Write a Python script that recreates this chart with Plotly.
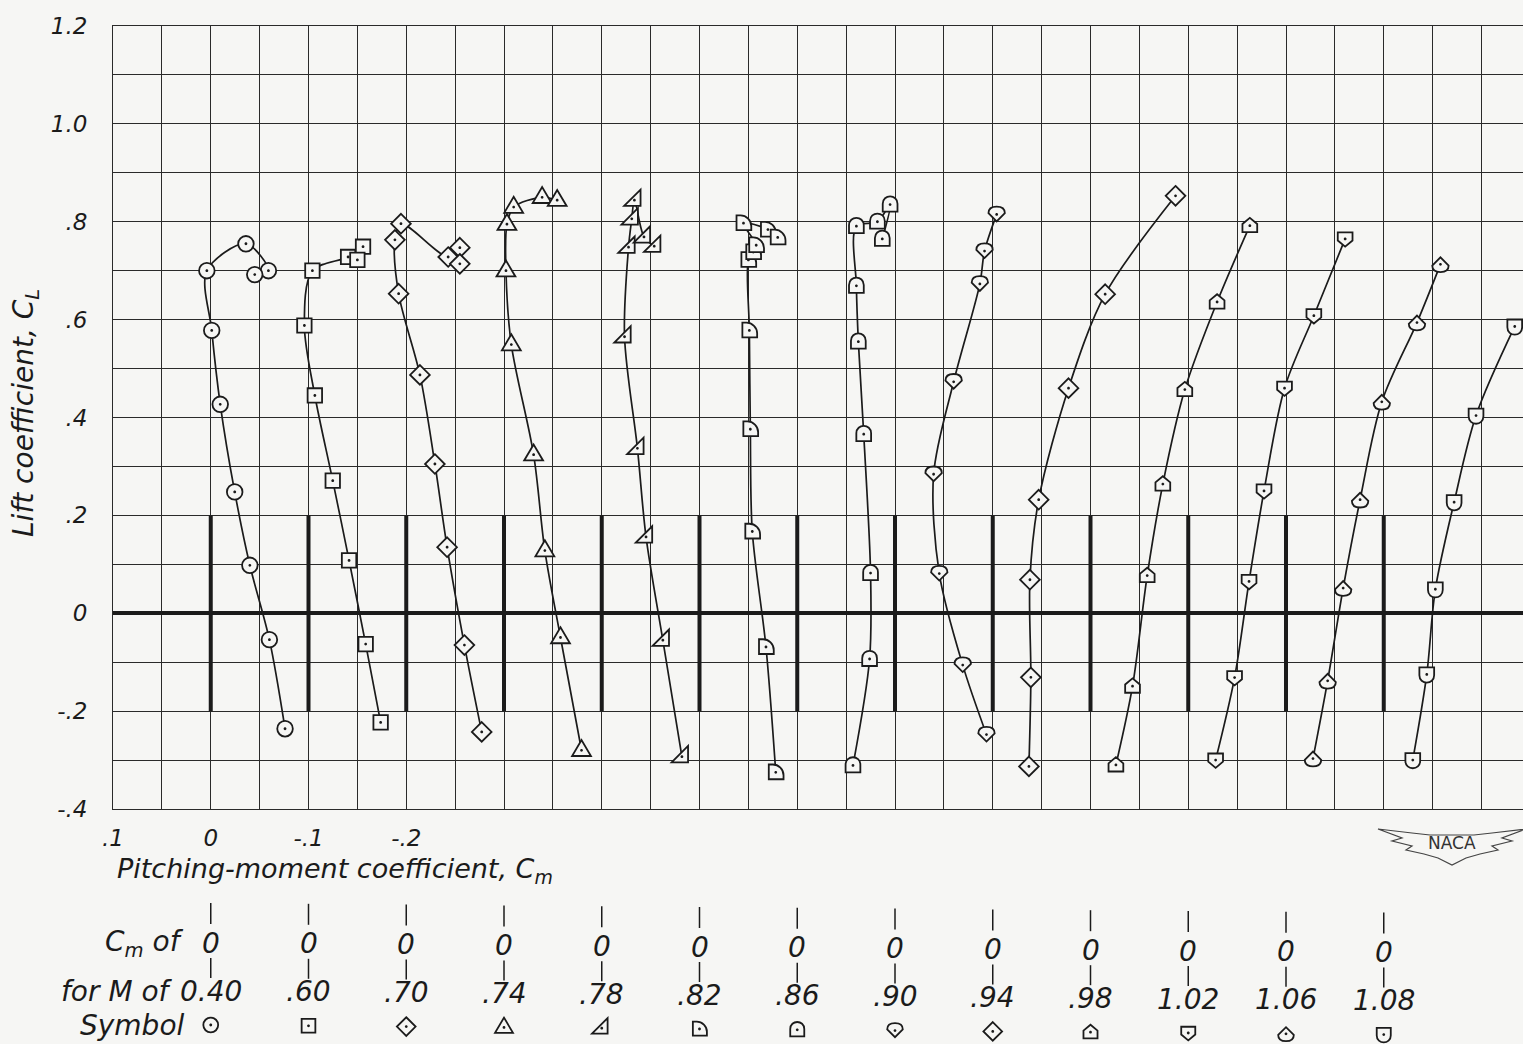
import plotly.graph_objects as go

# ---------------------------------------------------------------- data
MACH_LABELS = ["0.40", ".60", ".70", ".74", ".78", ".82", ".86",
               ".90", ".94", ".98", "1.02", "1.06", "1.08"]
SYMBOL_KEYS = ["circle", "square", "diamond", "tri_up", "tri_se", "quarter", "arch",
               "drop_down", "diamond", "house", "house_inv", "drop_up", "arch_inv"]

CM_M040 = [-0.076, -0.060, -0.040, -0.0245, -0.0097, -0.001, 0.004, -0.036, -0.059, -0.045]
CL_M040 = [-0.236, -0.054, 0.098, 0.248, 0.427, 0.578, 0.700, 0.755, 0.700, 0.692]

CM_M060 = [-0.0738, -0.0585, -0.0415, -0.0248, -0.0065, 0.0042, -0.004, -0.0405, -0.0558, -0.050]
CL_M060 = [-0.223, -0.063, 0.108, 0.271, 0.445, 0.588, 0.700, 0.728, 0.749, 0.722]

CM_M070 = [-0.0772, -0.0595, -0.0418, -0.0293, -0.014, 0.0078, 0.0116, 0.0054, -0.0429, -0.0548, -0.0548]
CL_M070 = [-0.2425, -0.065, 0.135, 0.305, 0.487, 0.653, 0.763, 0.796, 0.728, 0.747, 0.714]

CM_M074 = [-0.0793, -0.0578, -0.0418, -0.0303, -0.0075, -0.002, -0.003, -0.0099, -0.039, -0.0544]
CL_M074 = [-0.280, -0.0496, 0.128, 0.324, 0.549, 0.700, 0.795, 0.830, 0.850, 0.844]

CM_M078 = [-0.082, -0.0625, -0.0453, -0.0365, -0.0233, -0.0274, -0.0307, -0.0334, -0.0432, -0.0537]
CL_M078 = [-0.293, -0.055, 0.156, 0.337, 0.565, 0.748, 0.806, 0.844, 0.769, 0.750]

CM_M082 = [-0.078, -0.068, -0.054, -0.052, -0.051, -0.050, -0.055, -0.058, -0.045, -0.070, -0.080]
CL_M082 = [-0.325, -0.069, 0.167, 0.376, 0.578, 0.722, 0.738, 0.752, 0.797, 0.784, 0.768]

CM_M086 = [-0.057, -0.074, -0.075, -0.068, -0.0625, -0.0605, -0.0605, -0.082, -0.095, -0.087]
CL_M086 = [-0.311, -0.0935, 0.082, 0.366, 0.555, 0.669, 0.791, 0.800, 0.835, 0.765]

CM_M090 = [-0.0936, -0.0693, -0.0453, -0.0395, -0.060, -0.0868, -0.0916, -0.104]
CL_M090 = [-0.248, -0.106, 0.081, 0.284, 0.473, 0.673, 0.740, 0.815]

CM_M094 = [-0.037, -0.039, -0.038, -0.047, -0.0775, -0.115, -0.187]
CL_M094 = [-0.313, -0.131, 0.0685, 0.232, 0.460, 0.652, 0.853]

CM_M098 = [-0.026, -0.043, -0.058, -0.074, -0.0965, -0.1295, -0.163]
CL_M098 = [-0.310, -0.149, 0.077, 0.264, 0.457, 0.636, 0.792]

CM_M102 = [-0.028, -0.0474, -0.0622, -0.0775, -0.0985, -0.1285, -0.1605]
CL_M102 = [-0.300, -0.1315, 0.065, 0.250, 0.460, 0.608, 0.765]

CM_M106 = [-0.0276, -0.0426, -0.0585, -0.0758, -0.098, -0.134, -0.158]
CL_M106 = [-0.297, -0.138, 0.0515, 0.232, 0.432, 0.594, 0.713]

CM_M108 = [-0.0297, -0.044, -0.0528, -0.072, -0.0944, -0.134]
CL_M108 = [-0.300, -0.125, 0.049, 0.227, 0.404, 0.586]

SERIES = [(CM_M040, CL_M040), (CM_M060, CL_M060), (CM_M070, CL_M070), (CM_M074, CL_M074),
          (CM_M078, CL_M078), (CM_M082, CL_M082), (CM_M086, CL_M086), (CM_M090, CL_M090),
          (CM_M094, CL_M094), (CM_M098, CL_M098), (CM_M102, CL_M102), (CM_M106, CL_M106),
          (CM_M108, CL_M108)]

X_TICK_LABELS = {-0.1: ".1", 0.0: "0", 0.1: "-.1", 0.2: "-.2"}
Y_TICK_LABELS = {1.2: "1.2", 1.0: "1.0", 0.8: ".8", 0.6: ".6", 0.4: ".4",
                 0.2: ".2", 0.0: "0", -0.2: "-.2", -0.4: "-.4"}

# ---------------------------------------------------------------- style / layout constants
W, H = 1523, 1044
L_MARGIN = 113
PLOT_TOP, PLOT_BOTTOM = 26, 809
PX_PER_UNIT = 977.5
STEP = 0.1                      # stagger of the Cm origin between Mach numbers
X_RANGE = [-0.1, -0.1 + (W - L_MARGIN) / PX_PER_UNIT]
Y_RANGE = [-0.4, 1.2]
INK = "#1b1b1b"
GRID = "#2a2a2a"
BG = "#f6f6f4"
FONT = "DejaVu Sans"
R_PLOT = 8.2
R_LEG = 7.8

# table rows (screen px, column 0) and per-column skew
SEG1 = (903, 924)
ZERO_Y = 943
SEG2 = (958, 978)
MACH_Y = 991
SYM_Y = 1025
SKEW = 0.8
TABLE_TOP = 814.0


def circle_cmds(R):
    k = 0.5523 * R
    return [("M", [(R, 0)]),
            ("C", [(R, k), (k, R), (0, R)]),
            ("C", [(-k, R), (-R, k), (-R, 0)]),
            ("C", [(-R, -k), (-k, -R), (0, -R)]),
            ("C", [(k, -R), (R, -k), (R, 0)]),
            ("Z", [])]


def poly_cmds(pts):
    return [("M", [pts[0]])] + [("L", [p]) for p in pts[1:]] + [("Z", [])]


SYM_BASE = {
    "circle": circle_cmds(0.95),
    "square": poly_cmds([(-0.88, -0.88), (0.88, -0.88), (0.88, 0.88), (-0.88, 0.88)]),
    "diamond": poly_cmds([(0, 1.2), (1.2, 0), (0, -1.2), (-1.2, 0)]),
    "tri_up": poly_cmds([(-1.15, -0.7), (1.15, -0.7), (0, 1.25)]),
    "tri_se": poly_cmds([(-1.25, -0.7), (0.75, -0.7), (0.75, 1.3)]),
    "quarter": [("M", [(-0.85, -0.85)]), ("L", [(-0.85, 0.95)]), ("L", [(-0.35, 0.95)]),
                ("C", [(0.35, 0.95), (0.95, 0.35), (0.95, -0.35)]), ("L", [(0.95, -0.85)]), ("Z", [])],
    "arch": [("M", [(-0.9, -0.85)]), ("L", [(-0.9, 0.1)]),
             ("C", [(-0.9, 1.3), (0.9, 1.3), (0.9, 0.1)]), ("L", [(0.9, -0.85)]), ("Z", [])],
    "drop": [("M", [(-1.0, 0.15)]), ("C", [(-1.0, 0.75), (-0.55, 0.95), (0, 0.95)]),
             ("C", [(0.55, 0.95), (1.0, 0.75), (1.0, 0.15)]), ("L", [(0, -0.85)]), ("Z", [])],
    "house": poly_cmds([(-0.9, -0.8), (0.9, -0.8), (0.9, 0.2), (0, 0.95), (-0.9, 0.2)]),
}
SYM_MAP = {"circle": ("circle", False), "square": ("square", False), "diamond": ("diamond", False),
           "tri_up": ("tri_up", False), "tri_se": ("tri_se", False), "quarter": ("quarter", False),
           "arch": ("arch", False), "arch_inv": ("arch", True), "drop_down": ("drop", False),
           "drop_up": ("drop", True), "house": ("house", False), "house_inv": ("house", True)}


def sym_path(key, r):
    base, flip = SYM_MAP[key]
    out = []
    for c, pts in SYM_BASE[base]:
        if c == "Z":
            out.append("Z")
            continue
        out.append(c + " ".join(f"{x * r:.2f},{(-y if flip else y) * r:.2f}" for x, y in pts))
    return " ".join(out)


def dot_path(r):
    out = []
    for c, pts in circle_cmds(r):
        out.append("Z" if c == "Z" else c + " ".join(f"{x:.2f},{y:.2f}" for x, y in pts))
    return " ".join(out)


def marker_shapes(xref, yref, x, y, key, r):
    common = dict(type="path", xref=xref, yref=yref, xsizemode="pixel", ysizemode="pixel",
                  xanchor=x, yanchor=y, layer="above")
    return [dict(common, path=sym_path(key, r), fillcolor=BG, line=dict(color=INK, width=1.8)),
            dict(common, path=dot_path(1.4), fillcolor=INK, line=dict(width=0))]


def paper_x(px):
    return (px - L_MARGIN) / (W - L_MARGIN)


def paper_y(py):
    return (H - py) / H


fig = go.Figure()

# faired curves
for k, (cm, cl) in enumerate(SERIES):
    fig.add_trace(go.Scatter(
        x=[k * STEP - c for c in cm], y=cl, mode="lines",
        line=dict(color=INK, width=1.7, shape="spline", smoothing=0.9),
        hoverinfo="skip", showlegend=False))

# heavy Cm = 0 reference marks for every Mach number
vx, vy = [], []
for k in range(len(MACH_LABELS)):
    vx += [k * STEP, k * STEP, None]
    vy += [-0.2, 0.2, None]
fig.add_trace(go.Scatter(x=vx, y=vy, mode="lines", line=dict(color=INK, width=4),
                         hoverinfo="skip", showlegend=False))

shapes = []
for k, (cm, cl) in enumerate(SERIES):
    for c, l in zip(cm, cl):
        shapes += marker_shapes("x", "y", k * STEP - c, l, SYMBOL_KEYS[k], R_PLOT)

# ---------------------------------------------------------------- key table (x2 / y2 in screen px)
TFONT = dict(size=28, family=FONT, style="italic", color=INK)
tx, ty = [], []
annotations = []
for k, lab in enumerate(MACH_LABELS):
    sk = k * SKEW
    tx += [k * STEP, k * STEP, None, k * STEP, k * STEP, None]
    ty += [SEG1[0] + sk, SEG1[1] + sk, None, SEG2[0] + sk, SEG2[1] + sk, None]
    annotations.append(dict(x=k * STEP, y=ZERO_Y + sk, xref="x2", yref="y2", text="0",
                            xanchor="center", yanchor="middle", showarrow=False, font=TFONT))
    annotations.append(dict(x=k * STEP, y=MACH_Y + sk, xref="x2", yref="y2", text=lab,
                            xanchor="center", yanchor="middle", showarrow=False, font=TFONT))
    shapes += marker_shapes("x2", "y2", k * STEP, SYM_Y + sk, SYMBOL_KEYS[k], R_LEG)

fig.add_trace(go.Scatter(x=tx, y=ty, mode="lines", line=dict(color=INK, width=1.5),
                         xaxis="x2", yaxis="y2", hoverinfo="skip", showlegend=False))

for text, yy, xs in [("C<sub>m</sub> of", ZERO_Y, -25), ("for M of", MACH_Y, -36), ("Symbol", SYM_Y, -24)]:
    annotations.append(dict(x=0, y=yy, xref="x2", yref="y2", text=text, xanchor="right",
                            yanchor="middle", xshift=xs, showarrow=False, font=TFONT))

# axis titles
annotations.append(dict(x=paper_x(115), y=paper_y(870), xref="paper", yref="paper",
                        xanchor="left", yanchor="middle",
                        text="Pitching-moment coefficient, C<sub>m</sub>", showarrow=False,
                        font=dict(size=27, family=FONT, style="italic", color=INK)))
annotations.append(dict(x=paper_x(25), y=paper_y(413), xref="paper", yref="paper",
                        xanchor="center", yanchor="middle", textangle=-90,
                        text="Lift coefficient, C<sub>L</sub>", showarrow=False,
                        font=dict(size=28, family=FONT, style="italic", color=INK)))

# NACA emblem
wing = [(-74, 16), (-40, 12), (-22, 10), (22, 10), (40, 12), (74, 16), (50, 7), (60, 4), (40, -1),
        (46, -5), (28, -9), (14, -13), (0, -20), (-14, -13), (-28, -9), (-46, -5), (-40, -1),
        (-60, 4), (-50, 7)]
wing_path = "M" + " L".join(f"{x},{y}" for x, y in wing) + " Z"
shapes.append(dict(type="path", xref="paper", yref="paper", xsizemode="pixel", ysizemode="pixel",
                   xanchor=paper_x(1452), yanchor=paper_y(845), path=wing_path,
                   fillcolor=BG, line=dict(color="#444", width=1.2), layer="above"))
annotations.append(dict(x=paper_x(1452), y=paper_y(843), xref="paper", yref="paper", text="NACA",
                        xanchor="center", yanchor="middle", showarrow=False,
                        font=dict(size=17, family=FONT, color="#333")))

x_tickvals = [round(-0.1 + i * 0.05, 3) for i in range(30)]
y_tickvals = [round(-0.4 + i * 0.1, 3) for i in range(17)]

fig.update_layout(
    width=W, height=H,
    margin=dict(l=L_MARGIN, r=0, t=0, b=0, autoexpand=False),
    paper_bgcolor=BG, plot_bgcolor=BG,
    showlegend=False, hovermode=False,
    xaxis=dict(range=X_RANGE, domain=[0, 1], anchor="y", automargin=False,
               tickmode="array", tickvals=x_tickvals,
               ticktext=[X_TICK_LABELS.get(v, "") for v in x_tickvals],
               showgrid=True, gridcolor=GRID, gridwidth=1, zeroline=False,
               showline=True, linecolor=GRID, linewidth=1, mirror=True,
               ticks="", ticklabelstandoff=8,
               tickfont=dict(size=23, family=FONT, style="italic", color=INK)),
    yaxis=dict(range=Y_RANGE, domain=[paper_y(PLOT_BOTTOM), paper_y(PLOT_TOP)], anchor="x",
               automargin=False,
               tickmode="array", tickvals=y_tickvals,
               ticktext=[Y_TICK_LABELS.get(v, "") for v in y_tickvals],
               showgrid=True, gridcolor=GRID, gridwidth=1,
               zeroline=True, zerolinecolor=INK, zerolinewidth=4,
               showline=True, linecolor=GRID, linewidth=1, mirror=True,
               ticks="", ticklabelstandoff=20,
               tickfont=dict(size=23, family=FONT, style="italic", color=INK)),
    xaxis2=dict(range=X_RANGE, domain=[0, 1], anchor="y2", visible=False, automargin=False),
    yaxis2=dict(range=[H, TABLE_TOP], domain=[0, paper_y(TABLE_TOP)], anchor="x2",
                visible=False, automargin=False),
    shapes=shapes,
    annotations=annotations,
)

fig.write_html("out.html", config={"displayModeBar": False, "staticPlot": True},
               post_script="document.body.style.margin='0px';document.body.style.overflow='hidden';")
